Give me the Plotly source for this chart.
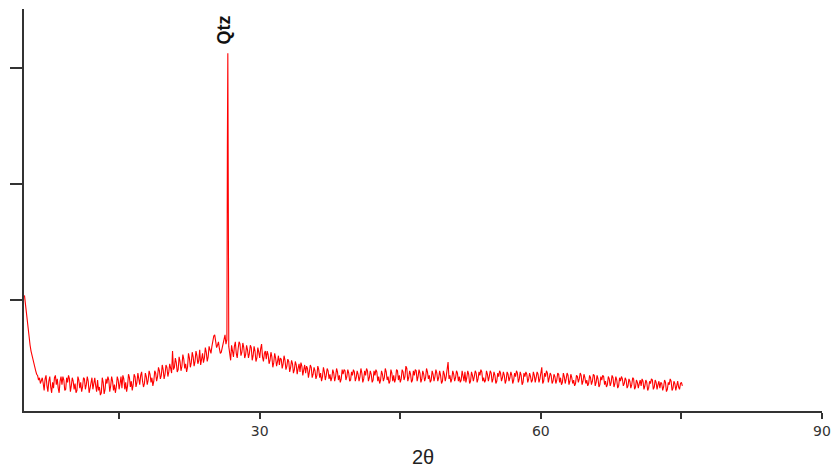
import plotly.graph_objects as go

# Step-scan grid (2theta, degrees): main points 4.9 .. 75.1 step 0.2
scan_start = 4.9
scan_step = 0.2
intensity_rows = [
    [1040, 900, 740, 610, 520, 450, 390, 350, 330, 300],
    [280, 320, 260, 300, 250, 290, 330, 270, 240, 300],
    [270, 310, 230, 290, 320, 260, 300, 280, 220, 310],
    [290, 250, 320, 270, 300, 240, 330, 280, 260, 310],
    [250, 200, 290, 230, 280, 310, 260, 300, 270, 250],
    [310, 280, 240, 320, 290, 260, 330, 300, 270, 340],
    [290, 320, 350, 300, 280, 340, 310, 360, 330, 300],
    [370, 340, 390, 350, 400, 360, 420, 380, 410, 560],
    [420, 460, 400, 470, 430, 490, 450, 420, 500, 460],
    [510, 470, 520, 480, 440, 540, 500, 550, 510, 570],
    [600, 690, 660, 610, 580, 550, 600, 700, 660, 600],
    [480, 560, 600, 540, 580, 620, 550, 590, 530, 570],
    [540, 590, 520, 560, 500, 550, 580, 510, 540, 490],
    [530, 480, 510, 460, 500, 470, 440, 490, 450, 480],
    [430, 470, 420, 450, 400, 440, 410, 380, 430, 400],
    [370, 410, 380, 420, 360, 390, 350, 400, 370, 340],
    [380, 350, 390, 360, 330, 370, 340, 380, 350, 320],
    [360, 390, 340, 370, 310, 350, 380, 330, 360, 340],
    [370, 320, 350, 390, 330, 360, 310, 350, 380, 340],
    [310, 360, 330, 380, 340, 300, 370, 350, 320, 390],
    [350, 320, 380, 340, 410, 330, 360, 310, 350, 390],
    [340, 370, 320, 360, 330, 380, 350, 310, 360, 340],
    [370, 330, 350, 300, 360, 340, 466, 350, 320, 360],
    [330, 370, 340, 310, 350, 380, 330, 360, 300, 350],
    [340, 370, 320, 350, 380, 330, 310, 360, 340, 370],
    [320, 350, 300, 340, 370, 330, 350, 310, 360, 330],
    [350, 310, 340, 370, 320, 350, 290, 340, 360, 320],
    [340, 310, 350, 330, 360, 320, 420, 300, 340, 370],
    [320, 350, 300, 340, 310, 360, 330, 290, 340, 320],
    [350, 300, 330, 310, 280, 340, 320, 350, 300, 330],
    [310, 280, 330, 300, 350, 290, 320, 270, 310, 340],
    [300, 270, 320, 290, 330, 280, 310, 260, 300, 320],
    [280, 310, 260, 300, 270, 320, 250, 290, 280, 260],
    [300, 260, 290, 240, 280, 310, 250, 290, 270, 240],
    [280, 250, 290, 230, 270, 300, 240, 280, 260, 250],
    [280, 260],
]
# In-between points 5.0 .. 75.0 step 0.2
mid_start = 5.0
mid_rows = [
    [960, 810, 680, 560, 480, 420, 360, 310, 280, 330],
    [220, 350, 210, 340, 200, 240, 350, 320, 200, 340],
    [340, 220, 330, 350, 210, 330, 230, 200, 340, 240],
    [210, 330, 230, 340, 200, 310, 230, 330, 210, 220],
    [180, 330, 190, 320, 340, 210, 340, 220, 200, 340],
    [230, 340, 350, 230, 210, 360, 250, 220, 360, 250],
    [370, 270, 380, 250, 370, 270, 390, 290, 260, 390],
    [300, 420, 320, 440, 320, 440, 340, 450, 370, 400],
    [500, 380, 510, 390, 530, 410, 380, 540, 420, 550],
    [430, 560, 450, 570, 500, 460, 590, 470, 600, 540],
    [660, 700, 590, 640, 540, 590, 660, 620, 3129, 520],
    [610, 510, 640, 500, 640, 520, 630, 500, 610, 500],
    [610, 480, 600, 470, 590, 500, 620, 470, 560, 560],
    [450, 550, 420, 540, 430, 520, 500, 410, 520, 400],
    [490, 380, 480, 370, 470, 360, 450, 460, 350, 440],
    [430, 330, 440, 330, 420, 320, 430, 330, 300, 420],
    [310, 410, 320, 300, 400, 300, 410, 310, 290, 400],
    [400, 310, 400, 300, 380, 400, 300, 390, 300, 410],
    [290, 390, 410, 300, 390, 290, 390, 400, 300, 280],
    [390, 300, 410, 310, 280, 400, 300, 290, 400, 310],
    [290, 400, 310, 430, 300, 390, 290, 390, 400, 300],
    [400, 290, 390, 300, 410, 320, 290, 390, 300, 400],
    [300, 390, 280, 390, 300, 400, 320, 290, 390, 300],
    [390, 300, 290, 390, 300, 290, 390, 280, 380, 300],
    [390, 290, 380, 400, 300, 290, 390, 300, 390, 290],
    [380, 280, 370, 390, 300, 380, 280, 380, 300, 380],
    [280, 370, 390, 290, 380, 270, 370, 380, 290, 370],
    [290, 380, 290, 380, 290, 380, 280, 370, 390, 290],
    [370, 280, 360, 280, 370, 290, 270, 370, 280, 370],
    [270, 360, 280, 260, 350, 290, 370, 270, 360, 280],
    [260, 350, 270, 360, 260, 350, 250, 340, 350, 270],
    [250, 340, 260, 350, 250, 340, 240, 330, 340, 260],
    [330, 240, 320, 240, 330, 230, 310, 240, 310, 320],
    [230, 310, 220, 300, 320, 230, 310, 230, 300, 290],
    [220, 310, 210, 290, 320, 220, 300, 220, 300, 230],
    [290],
]

# Quartz reflection detail (shoulder of the main line)
peak_tth = [26.55]
peak_int = [2310]

x_ticks = [15, 30, 45, 60, 75, 90]
x_ticktext = ["", "30", "", "60", "", "90"]
y_ticks = [1000, 2000, 3000]

main_int = [v for row in intensity_rows for v in row]
main_tth = [round(scan_start + i * scan_step, 2) for i in range(len(main_int))]
mid_int = [v for row in mid_rows for v in row]
mid_tth = [round(mid_start + i * scan_step, 2) for i in range(len(mid_int))]

pts = sorted(zip(main_tth + mid_tth + peak_tth, main_int + mid_int + peak_int),
             key=lambda p: p[0])
tth = [p[0] for p in pts]
inten = [p[1] for p in pts]

fig = go.Figure()
fig.add_trace(go.Scatter(x=tth, y=inten, mode="lines",
                         line=dict(color="#ff0000", width=1.1), showlegend=False))

fig.add_annotation(x=26.6, y=3129, text="<b>Qtz</b>", showarrow=False,
                   textangle=-90, yanchor="bottom", yshift=7, xshift=-4,
                   font=dict(family="Liberation Sans", size=18, color="#111"))

fig.update_layout(
    width=837, height=468,
    margin=dict(l=24, r=15, t=9, b=57),
    plot_bgcolor="white", paper_bgcolor="white",
    xaxis=dict(range=[4.85, 90], showline=True, linecolor="#333", linewidth=2,
               ticks="outside", ticklen=6, tickwidth=2, tickcolor="#333",
               tickvals=x_ticks, ticktext=x_ticktext, showgrid=False, zeroline=False,
               automargin=False,
               tickfont=dict(family="DejaVu Sans", size=14, color="#333"),
               title=dict(text="2θ", font=dict(family="Liberation Sans", size=20, color="#222"),
                          standoff=16)),
    yaxis=dict(range=[43, 3510], showline=True, linecolor="#333", linewidth=2,
               ticks="outside", ticklen=12, tickwidth=2, tickcolor="#333",
               automargin=False,
               tickvals=y_ticks, showticklabels=False, showgrid=False, zeroline=False),
)

fig.write_html("out.html")
